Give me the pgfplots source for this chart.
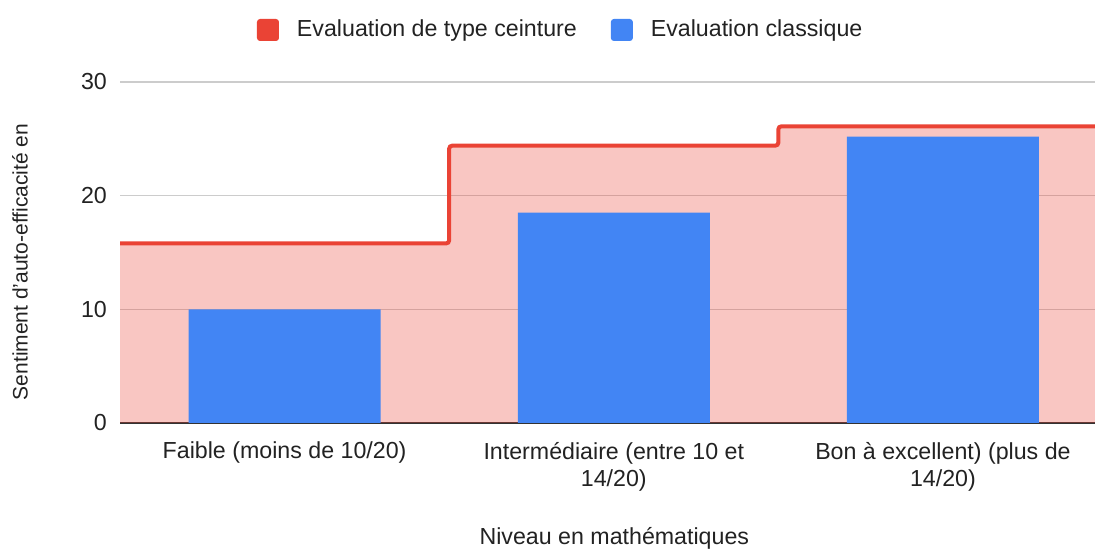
\documentclass[border=0pt]{standalone}
\usepackage{pgfplots}
\pgfplotsset{compat=1.18}
\usepackage{fontspec}
\setmainfont{Liberation Sans}
\definecolor{cred}{HTML}{EA4335}
\definecolor{cblue}{HTML}{4285F4}
\definecolor{cgrid}{HTML}{CCCCCC}
\definecolor{ctext}{HTML}{222222}
\newcommand{\fs}{\fontsize{11.6}{13.6}\selectfont}
\begin{document}
\fs
\begin{tikzpicture}
\path[use as bounding box] (-60pt,-63pt) rectangle (487.5pt,211.5pt);
\begin{axis}[
  scale only axis,
  width=487.5pt, height=170.5pt,
  at={(0,0)}, anchor=south west,
  xmin=-0.5, xmax=2.462,
  ymin=0, ymax=30,
  ytick={0,10,20,30},
  xtick={0,1,2},
  xticklabels={{Faible (moins de 10/20)},{Intermédiaire (entre 10 et\\14/20)},{Bon à excellent) (plus de\\14/20)}},
  xticklabel style={align=center, font=\fs, text=ctext, yshift=-5.5pt},
  yticklabel style={font=\fs, text=ctext, xshift=-2.5pt},
  /pgf/number format/assume math mode=true,
  major tick length=0pt,
  ymajorgrids, grid style={cgrid, line width=0.6pt},
  separate axis lines,
  axis x line*=bottom,
  axis y line*=left,
  x axis line style={draw=black!80, line width=0.8pt, -},
  y axis line style={draw=none},
  xlabel={Niveau en mathématiques},
  ylabel={Sentiment d'auto-efficacité en},
  every axis x label/.append style={at={(axis description cs:0.507,-0.337)}, anchor=center, font=\fs, text=ctext},
  every axis y label/.append style={at={(axis description cs:-0.1026,0.472)}, anchor=center, rotate=0, font=\fontsize{10.5}{12.5}\selectfont, text=ctext},
  legend columns=2,
  legend style={draw=none, fill=none, at={(axis description cs:0.453,1.1525)}, anchor=center, font=\fs, text=ctext,
    /tikz/every odd column/.append style={column sep=7pt},
    /tikz/every even column/.append style={column sep=15pt}},
  legend cell align=left,
  axis on top=false,
]
\addlegendimage{draw=none, fill=cred, legend image code/.code={\fill[rounded corners=1.5pt] (0pt,-5.5pt) rectangle (11pt,5.5pt);}}
\addlegendentry{Evaluation de type ceinture}
\addlegendimage{draw=none, fill=cblue, legend image code/.code={\fill[rounded corners=1.5pt] (0pt,-5.5pt) rectangle (11pt,5.5pt);}}
\addlegendentry{Evaluation classique}
% shaded area
\addplot[forget plot, const plot, draw=none, fill=cred, fill opacity=0.3]
  coordinates {(-0.5,15.8) (0.5,24.4) (1.5,26.1) (2.6,26.1)} \closedcycle;
% bars
\addplot[forget plot, ybar, bar width=96pt, bar shift=0pt, draw=none, fill=cblue]
  coordinates {(0,10.0) (1,18.5) (2,25.2)};
% step line
\addplot[forget plot, const plot, draw=cred, line width=2pt, rounded corners=1.5pt]
  coordinates {(-0.5,15.8) (0.5,24.4) (1.5,26.1) (2.6,26.1)};
\end{axis}
\end{tikzpicture}
\end{document}
